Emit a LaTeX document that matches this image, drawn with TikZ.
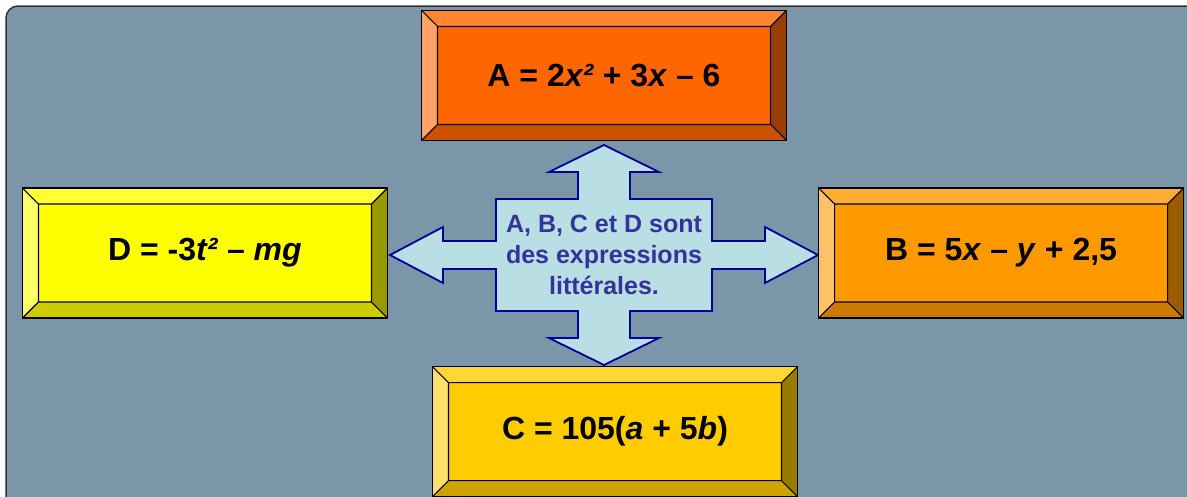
\documentclass[tikz,border=0pt]{standalone}
\usepackage{fontspec}
\setmainfont{Liberation Sans}
\usetikzlibrary{positioning}
\definecolor{panelbg}{HTML}{7B96A9}
\definecolor{hubfill}{HTML}{B9DEE3}
\definecolor{hubline}{HTML}{000099}
\definecolor{hubtext}{HTML}{333399}
% bevel colours: face, top, left, bottom, right
\definecolor{Aface}{HTML}{FF6600}\definecolor{Atop}{HTML}{FF8533}\definecolor{Aleft}{HTML}{FFA366}
\definecolor{Abot}{HTML}{CC5200}\definecolor{Aright}{HTML}{993D00}
\definecolor{Bface}{HTML}{FF9900}\definecolor{Btop}{HTML}{FFAD33}\definecolor{Bleft}{HTML}{FFC266}
\definecolor{Bbot}{HTML}{CC7A00}\definecolor{Bright}{HTML}{995C00}
\definecolor{Cface}{HTML}{FFCC00}\definecolor{Ctop}{HTML}{FFD633}\definecolor{Cleft}{HTML}{FFE066}
\definecolor{Cbot}{HTML}{CCA300}\definecolor{Cright}{HTML}{997A00}
\definecolor{Dface}{HTML}{FFFF00}\definecolor{Dtop}{HTML}{FFFF33}\definecolor{Dleft}{HTML}{FFFF66}
\definecolor{Dbot}{HTML}{CCCC00}\definecolor{Dright}{HTML}{999900}
\tikzset{
  panel/.style  = {fill=panelbg, draw=black!80, line width=1.5pt, rounded corners=12pt},
  bevel/.style  = {rectangle, draw=black, line width=1.2pt, fill=#1face,
                   minimum width=365pt, minimum height=130pt, inner sep=0pt,
                   font=\bfseries\fontsize{32}{38}\selectfont,
                   path picture={
                     \coordinate (o1) at (path picture bounding box.north west);
                     \coordinate (o2) at (path picture bounding box.north east);
                     \coordinate (o3) at (path picture bounding box.south east);
                     \coordinate (o4) at (path picture bounding box.south west);
                     \coordinate (i1) at ([shift={(16pt,-16pt)}]o1);
                     \coordinate (i2) at ([shift={(-16pt,-16pt)}]o2);
                     \coordinate (i3) at ([shift={(-16pt,16pt)}]o3);
                     \coordinate (i4) at ([shift={(16pt,16pt)}]o4);
                     \fill[#1top]   (o1)--(o2)--(i2)--(i1)--cycle;
                     \fill[#1right] (o2)--(o3)--(i3)--(i2)--cycle;
                     \fill[#1bot]   (o3)--(o4)--(i4)--(i3)--cycle;
                     \fill[#1left]  (o4)--(o1)--(i1)--(i4)--cycle;
                     \draw[line width=1.2pt] (i1) rectangle (i3)
                       (o1)--(i1) (o2)--(i2) (o3)--(i3) (o4)--(i4);
                   }},
  quad/.style   = {fill=hubfill, draw=hubline, line width=1.8pt, line join=miter},
  hubtxt/.style = {align=center, text=hubtext, inner sep=0pt,
                   font=\bfseries\fontsize{25}{31}\selectfont},
}
\begin{document}
\begin{tikzpicture}[x=1pt, y=-1pt]
  \useasboundingbox (0,0) rectangle (1187,496);
  \path[panel] (6,6) rectangle (1210,520);
  % four-way arrow
  \begin{scope}[shift={(604,255)}]
    \draw[quad] (0,-110) -- (55,-83) -- (26,-83) -- (26,-56) -- (108,-56) -- (108,-14)
      -- (161,-14) -- (161,-28) -- (214,0) -- (161,28) -- (161,14) -- (108,14)
      -- (108,56) -- (26,56) -- (26,83) -- (55,83) -- (0,110) -- (-55,83)
      -- (-26,83) -- (-26,56) -- (-108,56) -- (-108,14) -- (-161,14) -- (-161,28)
      -- (-214,0) -- (-161,-28) -- (-161,-14) -- (-108,-14) -- (-108,-56)
      -- (-26,-56) -- (-26,-83) -- (-55,-83) -- cycle;
    \coordinate (tipN) at (0,-110);
    \coordinate (tipS) at (0,110);
    \coordinate (tipW) at (-214,0);
    \coordinate (tipE) at (214,0);
    \node[hubtxt] (hub) at (0,0) {A, B, C et D sont\\des expressions\\littérales.};
  \end{scope}
  % expressions
  \node[bevel=A, above=4pt of tipN] (A) {A = 2\textit{x²} + 3\textit{x} – 6};
  \node[bevel=B, right=0pt of tipE, yshift=2pt] (B) {B = 5\textit{x} – \textit{y} + 2,5};
  \node[bevel=C, below=1pt of tipS, xshift=11pt] (C) {C = 105(\textit{a} + 5\textit{b})};
  \node[bevel=D, left=2pt of tipW, yshift=2pt] (D) {D = -3\textit{t²} – \textit{mg}};
\end{tikzpicture}
\end{document}
